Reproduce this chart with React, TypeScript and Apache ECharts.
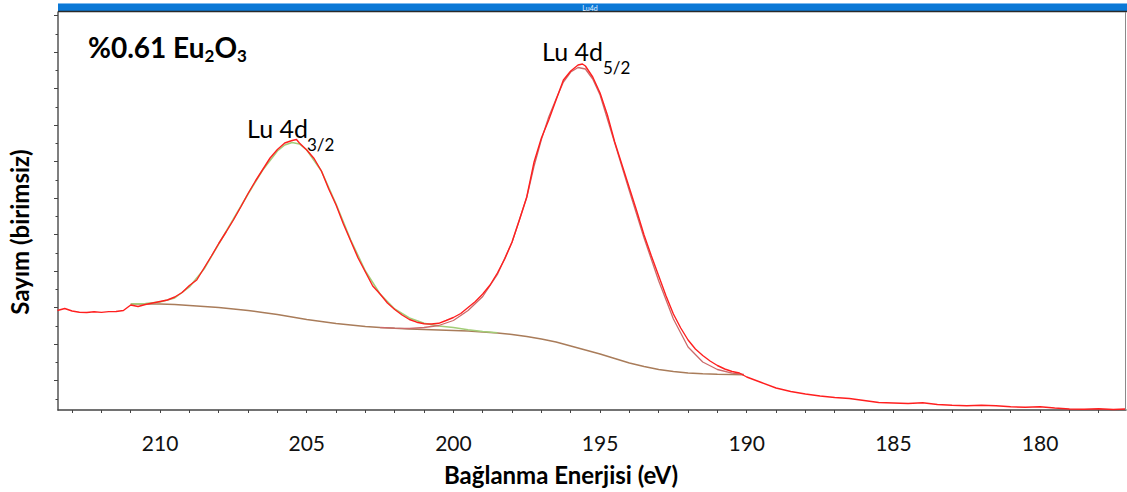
import React, { useEffect, useRef } from "react";
import * as echarts from "echarts";

// ---- Data (binding energy in eV, counts in arbitrary units) ----
const redEnergy = [213.5, 213.25, 213, 212.75, 212.5, 212.25, 212, 211.75, 211.5, 211.25, 211, 210.75, 210.5, 210.25, 210, 209.75, 209.5, 209.25, 209, 208.75, 208.5, 208.25, 208, 207.75, 207.5, 207.25, 207, 206.75, 206.5, 206.25, 206, 205.75, 205.5, 205.35, 205.25, 205, 204.75, 204.5, 204.25, 204, 203.75, 203.5, 203.25, 203, 202.75, 202.5, 202.25, 202, 201.75, 201.5, 201.25, 201, 200.75, 200.5, 200.25, 200, 199.75, 199.5, 199.25, 199, 198.75, 198.5, 198.25, 198, 197.75, 197.5, 197.25, 197, 196.75, 196.5, 196.25, 196, 195.75, 195.6, 195.5, 195.25, 195, 194.75, 194.5, 194.25, 194, 193.75, 193.5, 193.25, 193, 192.75, 192.5, 192.25, 192, 191.75, 191.5, 191.25, 191, 190.75, 190.5, 190.25, 190, 189.5, 189, 188.5, 188, 187.5, 187, 186.5, 186, 185.5, 185, 184.5, 184, 183.5, 183, 182.5, 182, 181.5, 181, 180.5, 180, 179.5, 179, 178.5, 178, 177.5, 177.1];
const redCounts = [995, 1015, 990, 978, 975, 982, 976, 984, 985, 995, 1050, 1035, 1055, 1070, 1085, 1100, 1130, 1175, 1245, 1300, 1420, 1540, 1665, 1780, 1900, 2030, 2165, 2290, 2405, 2520, 2605, 2670, 2695, 2705, 2670, 2600, 2515, 2390, 2210, 2050, 1860, 1690, 1520, 1380, 1240, 1160, 1070, 1005, 950, 905, 878, 863, 860, 867, 895, 925, 965, 1025, 1085, 1160, 1250, 1370, 1510, 1680, 1900, 2130, 2480, 2720, 2900, 3100, 3300, 3390, 3450, 3460, 3440, 3330, 3170, 2950, 2680, 2450, 2220, 1990, 1750, 1540, 1340, 1140, 960, 820, 700, 610, 545, 490, 445, 410, 385, 370, 330, 275, 220, 185, 160, 140, 125, 115, 95, 75, 70, 65, 72, 55, 47, 42, 47, 42, 32, 28, 32, 20, 10, 7, 12, 5, 10];

const greenEnergy = [211, 210.5, 210, 209.5, 209, 208.5, 208, 207.5, 207, 206.5, 206, 205.75, 205.5, 205.25, 205, 204.5, 204, 203.5, 203, 202.5, 202, 201.5, 201, 200.5, 200, 199.5, 199, 198.5];
const greenCounts = [1060, 1065, 1080, 1120, 1230, 1410, 1660, 1910, 2160, 2400, 2590, 2650, 2675, 2660, 2600, 2390, 2060, 1700, 1390, 1160, 1010, 920, 868, 840, 825, 803, 785, 772];

const pinkEnergy = [202.5, 202, 201.5, 201, 200.5, 200, 199.5, 199, 198.5, 198, 197.5, 197.25, 197, 196.75, 196.5, 196.25, 196, 195.75, 195.5, 195.25, 195, 194.5, 194, 193.5, 193, 192.5, 192, 191.5, 191, 190.5, 190.1];
const pinkCounts = [825, 818, 815, 825, 845, 895, 995, 1135, 1355, 1680, 2125, 2440, 2705, 2930, 3110, 3280, 3380, 3425, 3410, 3310, 3150, 2670, 2190, 1720, 1290, 910, 630, 480, 405, 368, 355];

const bgEnergy = [211, 210.5, 210, 209.5, 209, 208.5, 208, 207.5, 207, 206.5, 206, 205.5, 205, 204.5, 204, 203.5, 203, 202.5, 202, 201.5, 201, 200.5, 200, 199.5, 199, 198.5, 198, 197.5, 197, 196.5, 196, 195.5, 195, 194.5, 194, 193.5, 193, 192.5, 192, 191.5, 191, 190.5, 190.1];
const bgCounts = [1060, 1060, 1060, 1055, 1045, 1035, 1025, 1010, 995, 975, 955, 930, 905, 885, 865, 850, 835, 825, 817, 810, 805, 800, 795, 790, 780, 770, 755, 735, 710, 680, 640, 600, 560, 515, 470, 435, 405, 385, 370, 362, 358, 355, 353];

const xLabels = [210, 205, 200, 195, 190, 185, 180];
const xTicks = [213, 212, 211, 210, 209, 208, 207, 206, 205, 204, 203, 202, 201, 200, 199, 198, 197, 196, 195, 194, 193, 192, 191, 190, 189, 188, 187, 186, 185, 184, 183, 182, 181, 180, 179, 178];
const yMajorTicks = [293, 658, 1023, 1388, 1753, 2118, 2483, 2848, 3213, 3578, 3943];
const yMinorTicks = [110, 475, 840, 1205, 1570, 1935, 2300, 2665, 3030, 3395, 3760];

const FONT = "Lato, 'Open Sans', sans-serif";

function pairs(xs: number[], ys: number[]) {
  return xs.map((x, i) => [x, ys[i]]);
}

export default function App() {
  const ref = useRef<HTMLDivElement>(null);
  useEffect(() => {
    if (!ref.current) return;
    const chart = echarts.init(ref.current, null, { renderer: "svg" });
    const line = (name: string, data: number[][], color: string, width: number, z: number) => ({
      name,
      type: "line",
      data,
      showSymbol: false,
      symbol: "none",
      smooth: false,
      z,
      lineStyle: { color, width },
      emphasis: { disabled: true },
    });
    chart.setOption({
      animation: false,
      backgroundColor: "#ffffff",
      grid: { left: 58, right: 1, top: 12, bottom: 82, containLabel: false },
      xAxis: {
        type: "value",
        min: 177.07,
        max: 213.48,
        inverse: true,
        splitLine: { show: false },
        axisLine: { show: true, lineStyle: { color: "#444", width: 1.5 } },
        axisTick: { show: true, customValues: xTicks, length: 3, inside: false, lineStyle: { color: "#444" } },
        axisLabel: { customValues: xLabels, fontSize: 21, fontFamily: FONT, color: "#111", margin: 22 },
      },
      yAxis: [
        {
          type: "value",
          min: 0,
          max: 3980,
          splitLine: { show: false },
          axisLine: { show: true, lineStyle: { color: "#555", width: 1.5 } },
          axisTick: { show: true, customValues: yMajorTicks, length: 4, lineStyle: { color: "#444" } },
          axisLabel: { show: false },
        },
        {
          type: "value",
          min: 0,
          max: 3980,
          position: "left",
          splitLine: { show: false },
          axisLine: { show: false },
          axisTick: { show: true, customValues: yMinorTicks, length: 2.5, lineStyle: { color: "#444" } },
          axisLabel: { show: false },
        },
      ],
      series: [
        line("Background", pairs(bgEnergy, bgCounts), "#a97c5a", 1.5, 2),
        line("Lu 4d3/2 fit", pairs(greenEnergy, greenCounts), "#a3cd78", 1.5, 3),
        line("Lu 4d5/2 fit", pairs(pinkEnergy, pinkCounts), "#cc6a6a", 1.3, 4),
        line("Data", pairs(redEnergy, redCounts), "#ff1f1f", 1.4, 5),
      ],
      graphic: [
        { type: "rect", shape: { x: 58, y: 3, width: 1069, height: 9 }, style: { fill: "#0b78d6" }, z: 10 },
        { type: "rect", shape: { x: 58, y: 3, width: 1069, height: 1 }, style: { fill: "#7db9ee" }, z: 11 },
        { type: "line", shape: { x1: 58, y1: 11.5, x2: 1127, y2: 11.5 }, style: { stroke: "#2a2a2a", lineWidth: 1.5 }, z: 11 },
        { type: "line", shape: { x1: 1125.5, y1: 12, x2: 1125.5, y2: 410 }, style: { stroke: "#8a8a8a", lineWidth: 1 }, z: 11 },
        { type: "text", x: 590, y: 7.5, style: { text: "Lu4d", fontSize: 7, fontFamily: FONT, fill: "#e6f2ff", align: "center", verticalAlign: "middle" }, z: 12 },
        {
          type: "text", x: 88, y: 47, z: 12,
          style: {
            text: "{a|%0.61 Eu}{b|2}{a|O}{b|3}",
            fontFamily: FONT,
            verticalAlign: "middle",
            rich: {
              a: { fontSize: 28, fontWeight: "bold", fontFamily: FONT, fill: "#000", lineHeight: 34 },
              b: { fontSize: 17, fontWeight: "bold", fontFamily: FONT, fill: "#000", lineHeight: 17, verticalAlign: "bottom" },
            },
          },
        },
        { type: "text", x: 247, y: 128, z: 12, style: { text: "Lu 4d", fontSize: 25, fontFamily: FONT, fill: "#000", verticalAlign: "middle" } },
        { type: "text", x: 307, y: 144, z: 12, style: { text: "3/2", fontSize: 17, fontFamily: FONT, fill: "#000", verticalAlign: "middle" } },
        { type: "text", x: 542, y: 51, z: 12, style: { text: "Lu 4d", fontSize: 25, fontFamily: FONT, fill: "#000", verticalAlign: "middle" } },
        { type: "text", x: 603, y: 67, z: 12, style: { text: "5/2", fontSize: 17, fontFamily: FONT, fill: "#000", verticalAlign: "middle" } },
        { type: "text", x: 561, y: 474, z: 12, style: { text: "Bağlanma Enerjisi (eV)", fontSize: 24, fontWeight: "bold", fontFamily: FONT, fill: "#000", align: "center", verticalAlign: "middle" } },
        { type: "text", x: 19, y: 232, rotation: Math.PI / 2, z: 12, style: { text: "Sayım (birimsiz)", fontSize: 24, fontWeight: "bold", fontFamily: FONT, fill: "#000", align: "center", verticalAlign: "middle" } },
      ],
    });
    return () => chart.dispose();
  }, []);
  return <div ref={ref} style={{ position: "fixed", left: 0, top: 0, width: 1127, height: 492, background: "#fff" }} />;
}
